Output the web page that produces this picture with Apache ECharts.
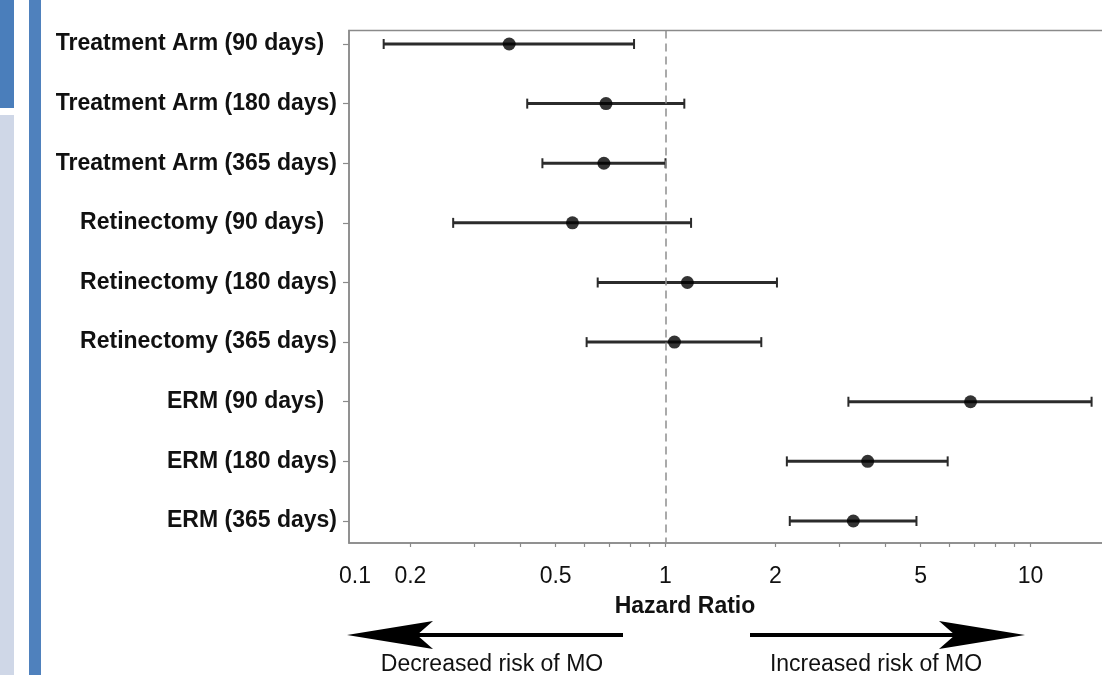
<!DOCTYPE html>
<html>
<head>
<meta charset="utf-8">
<style>
  html, body { margin: 0; padding: 0; background: #ffffff; }
  #chart { width: 1102px; height: 675px; }
</style>
<script src="https://cdn.jsdelivr.net/npm/echarts@6/dist/echarts.min.js"></script>
</head>
<body>
<div id="chart"></div>
<script>
// ---- data ----
const rowLabels = [
  'Treatment Arm (90 days)  ',
  'Treatment Arm (180 days)',
  'Treatment Arm (365 days)',
  'Retinectomy (90 days)  ',
  'Retinectomy (180 days)',
  'Retinectomy (365 days)',
  'ERM (90 days)  ',
  'ERM (180 days)',
  'ERM (365 days)'
];
const hazardRatio = [0.373, 0.687, 0.678, 0.556, 1.148, 1.058, 6.85, 3.58, 3.27];
const ciLower     = [0.169, 0.418, 0.460, 0.262, 0.652, 0.608, 3.17, 2.15, 2.19];
const ciUpper     = [0.820, 1.126, 1.00, 1.175, 2.02, 1.83, 14.7, 5.93, 4.87];
const xTickValues = [0.1, 0.2, 0.5, 1, 2, 5, 10];
const xTickLabels = ['0.1', '0.2', '0.5', '1', '2', '5', '10'];
const xMinorTicks = [0.2, 0.3, 0.4, 0.5, 0.6, 0.7, 0.8, 0.9, 1, 2, 3, 4, 5, 6, 7, 8, 9, 10];
const xRange = [0.1358, 16.72];
const refValue = 1;
const xAxisTitle = 'Hazard Ratio';
const leftNote = 'Decreased risk of MO';
const rightNote = 'Increased risk of MO';

// ---- build ----
const L = Math.log10;
const xMin = L(xRange[0]), xMax = L(xRange[1]);
const labelPos = xTickValues.map(v => Math.max(L(v), xMin));
const rowIdx = rowLabels.map((_, i) => i + 1);

const FONT = 'Arial, "Liberation Sans", sans-serif';

const chart = echarts.init(document.getElementById('chart'), null, { renderer: 'canvas' });

function arrow(tipX, y, dir, shaftEnd) {
  const headLen = 86, half = 14, notch = 16;
  const bx = tipX - dir * headLen;
  const nx = tipX - dir * (headLen - notch);
  return [
    { type: 'line', shape: { x1: shaftEnd, y1: y, x2: nx, y2: y }, style: { stroke: '#000', lineWidth: 4 } },
    { type: 'polygon', shape: { points: [[tipX, y], [bx, y - half], [nx, y], [bx, y + half]] }, style: { fill: '#000' } }
  ];
}

const option = {
  backgroundColor: '#ffffff',
  animation: false,
  grid: {
    left: 349, top: 30.5, width: 763, height: 512.5,
    outerBoundsMode: 'none', containLabel: false,
    show: true, borderColor: '#8a8a8a', borderWidth: 1.5, backgroundColor: 'transparent'
  },
  xAxis: {
    type: 'value', min: xMin, max: xMax,
    axisLine: { show: true, onZero: false, lineStyle: { color: '#8a8a8a', width: 1.5 } },
    axisTick: { show: true, customValues: xMinorTicks.map(L), length: 4, lineStyle: { color: '#8a8a8a', width: 1.2 } },
    axisLabel: {
      customValues: labelPos,
      formatter: v => {
        const i = labelPos.findIndex(p => Math.abs(p - v) < 1e-6);
        if (i < 0) return '';
        return i === 0 ? '{first|' + xTickLabels[i] + '}' : xTickLabels[i];
      },
      rich: { first: { padding: [0, 0, 0, 12], fontFamily: FONT, fontSize: 23, color: '#111' } },
      fontFamily: FONT, fontSize: 23, color: '#111', margin: 22
    },
    splitLine: { show: false }
  },
  yAxis: {
    type: 'value', inverse: true, min: 0.7736, max: 9.369,
    axisLine: { show: true, onZero: false, lineStyle: { color: '#8a8a8a', width: 1.5 } },
    axisTick: { show: true, customValues: rowIdx, length: 6, lineStyle: { color: '#8a8a8a', width: 1.2 } },
    axisLabel: {
      customValues: rowIdx,
      formatter: v => rowLabels[Math.round(v) - 1] || '',
      fontFamily: FONT, fontSize: 23, fontWeight: 'bold', color: '#111', margin: 12
    },
    splitLine: { show: false }
  },
  series: [
    {
      type: 'custom',
      data: rowLabels.map((_, i) => [L(ciLower[i]), L(ciUpper[i]), i + 1]),
      renderItem: (params, api) => {
        const y = api.value(2);
        const p1 = api.coord([api.value(0), y]);
        const p2 = api.coord([api.value(1), y]);
        const h = 5;
        const st = { stroke: '#2b2b2b', lineWidth: 3 };
        return {
          type: 'group',
          children: [
            { type: 'line', shape: { x1: p1[0], y1: p1[1], x2: p2[0], y2: p2[1] }, style: st },
            { type: 'line', shape: { x1: p1[0], y1: p1[1] - h, x2: p1[0], y2: p1[1] + h }, style: { stroke: '#2b2b2b', lineWidth: 2 } },
            { type: 'line', shape: { x1: p2[0], y1: p2[1] - h, x2: p2[0], y2: p2[1] + h }, style: { stroke: '#2b2b2b', lineWidth: 2 } }
          ]
        };
      },
      encode: { x: [0, 1], y: 2 },
      clip: false,
      z: 3,
      markLine: {
        silent: true, symbol: 'none', label: { show: false },
        lineStyle: { color: '#8f8f8f', type: [8, 5], width: 1.5 },
        data: [{ xAxis: L(refValue) }]
      }
    },
    {
      type: 'scatter',
      data: rowLabels.map((_, i) => [L(hazardRatio[i]), i + 1]),
      symbol: 'circle', symbolSize: 13,
      itemStyle: { color: '#000' },
      z: 4
    }
  ],
  graphic: [
    { type: 'rect', shape: { x: 0, y: 0, width: 14, height: 108 }, style: { fill: '#4a7ebb' } },
    { type: 'rect', shape: { x: 0, y: 115, width: 14, height: 560 }, style: { fill: '#cfd7e7' } },
    { type: 'rect', shape: { x: 29, y: 0, width: 12, height: 675 }, style: { fill: '#4f81bd' } },
    { type: 'text', x: 685, y: 607, style: { text: xAxisTitle, font: 'bold 23px ' + FONT, fill: '#111', align: 'center', verticalAlign: 'middle' } },
    ...arrow(347, 635, -1, 623),
    ...arrow(1025, 635, 1, 750),
    { type: 'text', x: 492, y: 665, style: { text: leftNote, font: '23px ' + FONT, fill: '#111', align: 'center', verticalAlign: 'middle' } },
    { type: 'text', x: 876, y: 665, style: { text: rightNote, font: '23px ' + FONT, fill: '#111', align: 'center', verticalAlign: 'middle' } }
  ]
};
chart.setOption(option);
</script>
</body>
</html>
